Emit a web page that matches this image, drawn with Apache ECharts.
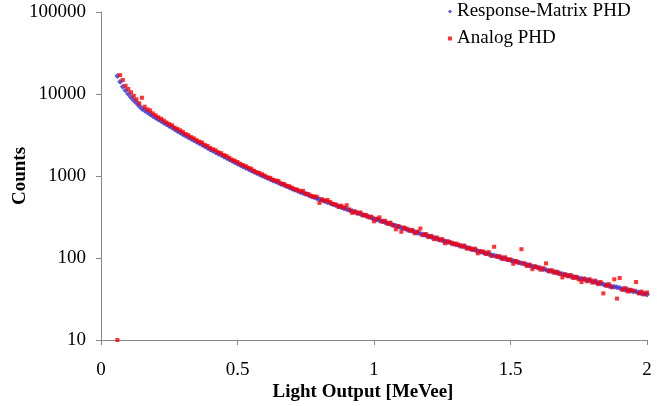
<!DOCTYPE html>
<html>
<head>
<meta charset="utf-8">
<script src="https://cdn.jsdelivr.net/npm/echarts@6/dist/echarts.min.js"></script>
<style>
html, body { margin: 0; padding: 0; background: #fff; }
#container { width: 657px; height: 406px; }
</style>
</head>
<body>
<div id="container"></div>
<script>
// light output bins [MeVee]
var lightOutput = [
    0.06, 0.07, 0.08, 0.09, 0.10, 0.11, 0.12, 0.13, 0.14, 0.15,
    0.16, 0.17, 0.18, 0.19, 0.20, 0.21, 0.22, 0.23, 0.24, 0.25,
    0.26, 0.27, 0.28, 0.29, 0.30, 0.31, 0.32, 0.33, 0.34, 0.35,
    0.36, 0.37, 0.38, 0.39, 0.40, 0.41, 0.42, 0.43, 0.44, 0.45,
    0.46, 0.47, 0.48, 0.49, 0.50, 0.51, 0.52, 0.53, 0.54, 0.55,
    0.56, 0.57, 0.58, 0.59, 0.60, 0.61, 0.62, 0.63, 0.64, 0.65,
    0.66, 0.67, 0.68, 0.69, 0.70, 0.71, 0.72, 0.73, 0.74, 0.75,
    0.76, 0.77, 0.78, 0.79, 0.80, 0.81, 0.82, 0.83, 0.84, 0.85,
    0.86, 0.87, 0.88, 0.89, 0.90, 0.91, 0.92, 0.93, 0.94, 0.95,
    0.96, 0.97, 0.98, 0.99, 1.00, 1.01, 1.02, 1.03, 1.04, 1.05,
    1.06, 1.07, 1.08, 1.09, 1.10, 1.11, 1.12, 1.13, 1.14, 1.15,
    1.16, 1.17, 1.18, 1.19, 1.20, 1.21, 1.22, 1.23, 1.24, 1.25,
    1.26, 1.27, 1.28, 1.29, 1.30, 1.31, 1.32, 1.33, 1.34, 1.35,
    1.36, 1.37, 1.38, 1.39, 1.40, 1.41, 1.42, 1.43, 1.44, 1.45,
    1.46, 1.47, 1.48, 1.49, 1.50, 1.51, 1.52, 1.53, 1.54, 1.55,
    1.56, 1.57, 1.58, 1.59, 1.60, 1.61, 1.62, 1.63, 1.64, 1.65,
    1.66, 1.67, 1.68, 1.69, 1.70, 1.71, 1.72, 1.73, 1.74, 1.75,
    1.76, 1.77, 1.78, 1.79, 1.80, 1.81, 1.82, 1.83, 1.84, 1.85,
    1.86, 1.87, 1.88, 1.89, 1.90, 1.91, 1.92, 1.93, 1.94, 1.95,
    1.96, 1.97, 1.98, 1.99, 2.00
];

// Response-Matrix PHD counts
var responseMatrix = [
    16600, 14100, 12300, 11000, 10000, 9120, 8410, 7760, 7160, 6610,
    6280, 5970, 5680, 5400, 5130, 4900, 4680, 4470, 4270, 4070,
    3890, 3720, 3550, 3390, 3240, 3100, 2970, 2850, 2730, 2620,
    2510, 2400, 2300, 2210, 2110, 2030, 1950, 1870, 1800, 1730,
    1660, 1590, 1530, 1470, 1410, 1360, 1310, 1260, 1220, 1170,
    1130, 1090, 1050, 1010, 977, 945, 914, 884, 855, 827,
    800, 774, 748, 724, 700, 679, 659, 640, 621, 603,
    585, 568, 551, 535, 519, 505, 491, 478, 465, 452,
    440, 428, 416, 405, 394, 383, 373, 364, 354, 345,
    336, 327, 318, 310, 302, 294, 287, 280, 273, 266,
    259, 253, 247, 240, 234, 229, 223, 218, 213, 208,
    203, 198, 193, 189, 184, 180, 176, 172, 168, 164,
    160, 157, 153, 150, 146, 143, 140, 137, 134, 131,
    128, 125, 122, 119, 117, 114, 112, 109, 107, 105,
    102, 100, 98, 96, 94, 92, 90, 88, 86, 85,
    83, 81, 79, 78, 76, 75, 73, 72, 70, 69,
    68, 66, 65, 64, 62.5, 61, 60, 59, 58, 57,
    56, 55, 54, 53, 52, 51, 50, 49, 48, 47,
    46, 45, 44.6, 44, 43, 42, 41, 41, 40, 39,
    39, 38, 37, 37, 36
];

// Analog PHD counts
var analog = [
    10, 17000, 14800, 12600, 11500, 10500, 9500, 8600, 7700, 9000,
    7000, 6500, 6300, 5800, 5500, 5200, 5000, 4750, 4500, 4300,
    4150, 3900, 3750, 3600, 3450, 3250, 3150, 2980, 2880, 2740,
    2620, 2560, 2400, 2330, 2200, 2120, 2060, 1950, 1900, 1800,
    1750, 1670, 1580, 1540, 1480, 1410, 1360, 1320, 1260, 1230,
    1160, 1110, 1090, 1050, 1010, 960, 950, 900, 880, 870,
    810, 800, 760, 750, 720, 690, 680, 650, 660, 610,
    600, 570, 560, 560, 470, 520, 500, 510, 480, 455,
    450, 420, 435, 410, 440, 390, 355, 370, 350, 360,
    330, 335, 315, 320, 280, 300, 313, 278, 285, 262,
    270, 250, 224, 245, 209, 235, 228, 215, 220, 200,
    210, 229, 190, 196, 180, 186, 170, 178, 165, 170,
    151, 160, 155, 147, 150, 145, 138, 142, 130, 133,
    126, 130, 114, 121, 120, 112, 118, 106, 137, 104,
    105, 97, 102, 95, 96, 85, 92, 88, 128, 86,
    80, 83, 73, 79, 77, 72, 75, 86, 69, 71,
    66, 68, 64, 58, 63, 60, 62, 57, 59, 55,
    51, 56, 52, 55, 50, 53, 48, 51, 37, 46,
    48, 44, 55, 32, 57, 41, 43, 39, 41, 40,
    51, 37, 39, 36, 38
];

var fontName = "'Liberation Serif', 'Times New Roman', serif";

function pairs(xs, ys) {
    var out = [];
    for (var i = 0; i < xs.length; i++) {
        out.push([xs[i], ys[i]]);
    }
    return out;
}

var dom = document.getElementById("container");
var myChart = echarts.init(dom, null, { renderer: 'canvas' });

var option = {
    animation: false,
    backgroundColor: '#ffffff',
    textStyle: { fontFamily: fontName, color: '#000' },
    grid: { left: 101, right: 10, top: 12, bottom: 66, outerBoundsMode: 'none', containLabel: false },
    legend: {
        orient: 'vertical',
        left: 443,
        top: -3,
        itemWidth: 4,
        itemHeight: 4,
        itemGap: 8,
        textStyle: { fontFamily: fontName, fontSize: 19, color: '#000', lineHeight: 19 },
        data: [
            { name: 'Response-Matrix PHD', icon: 'diamond' },
            { name: 'Analog PHD', icon: 'rect' }
        ]
    },
    xAxis: {
        type: 'value',
        min: 0,
        max: 2,
        interval: 0.5,
        name: 'Light Output [MeVee]',
        nameLocation: 'middle',
        nameGap: 43,
        nameMoveOverlap: false,
        nameTextStyle: {
            fontFamily: fontName, fontSize: 19, fontWeight: 'bold', color: '#000',
            padding: [0, 22, 0, 0]
        },
        axisLine: { onZero: false, lineStyle: { color: '#868686', width: 1 } },
        axisTick: { show: true, length: 5, lineStyle: { color: '#868686' } },
        axisLabel: { fontFamily: fontName, fontSize: 19, color: '#000', margin: 21 },
        splitLine: { show: false }
    },
    yAxis: {
        type: 'log',
        logBase: 10,
        min: 10,
        max: 100000,
        name: 'Counts',
        nameLocation: 'middle',
        nameGap: 71,
        nameMoveOverlap: false,
        nameTextStyle: { fontFamily: fontName, fontSize: 19, fontWeight: 'bold', color: '#000' },
        axisLine: { show: true, lineStyle: { color: '#868686', width: 1 } },
        axisTick: { show: true, length: 5, lineStyle: { color: '#868686' } },
        axisLabel: {
            fontFamily: fontName, fontSize: 19, color: '#000', margin: 15,
            formatter: function (v) { return String(v); }
        },
        splitLine: { show: false },
        minorTick: { show: false }
    },
    series: [{
        name: 'Response-Matrix PHD',
        type: 'scatter',
        symbol: 'diamond',
        symbolSize: 6,
        itemStyle: { color: '#2f2fcf' },
        data: pairs(lightOutput, responseMatrix)
    }, {
        name: 'Analog PHD',
        type: 'scatter',
        symbol: 'rect',
        symbolSize: 4,
        itemStyle: { color: '#ff0000' },
        data: pairs(lightOutput, analog)
    }]
};

if (option && typeof option === "object") {
    myChart.setOption(option, true);
}
</script>
</body>
</html>
